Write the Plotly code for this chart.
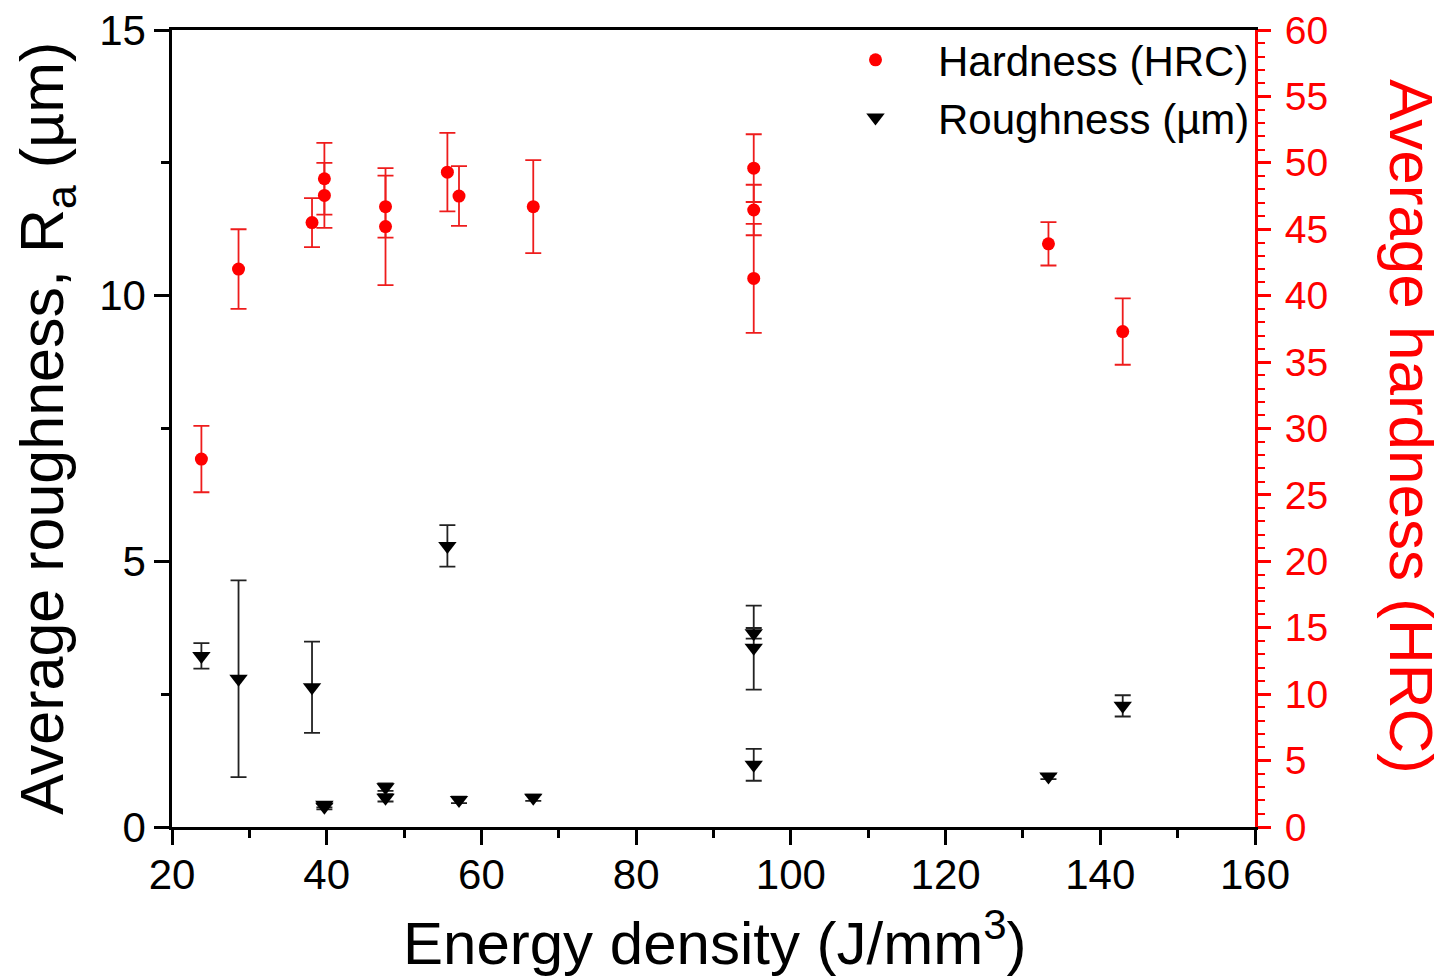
import plotly.graph_objects as go

# energy density (J/mm^3) of each sample
energy = [23.8, 28.6, 38.1, 39.7, 39.7, 47.6, 47.6, 55.6, 57.1, 66.7,
          95.2, 95.2, 95.2, 133.3, 142.9]

# hardness (HRC) with error
hardness = [27.7, 42.0, 45.5, 48.8, 47.55, 46.7, 45.2, 49.3, 47.5, 46.7,
            49.6, 46.45, 41.3, 43.9, 37.3]
hardness_err = [2.5, 3.0, 1.85, 2.7, 2.45, 2.33, 4.4, 2.95, 2.25, 3.5,
                2.55, 1.9, 4.1, 1.63, 2.5]

# roughness Ra (um) with error
roughness = [3.22, 2.79, 2.63, 0.42, 0.38, 0.75, 0.55, 5.29, 0.51, 0.55,
             3.645, 3.375, 1.17, 0.95, 2.28]
roughness_err = [0.24, 1.85, 0.86, 0.05, 0.05, 0.07, 0.07, 0.39, 0.06, 0.06,
                 0.1, 0.79, 0.3, 0.05, 0.2]

FONT = "Arial"

fig = go.Figure()

fig.add_trace(
    go.Scatter(
        x=energy,
        y=hardness,
        mode="markers",
        name="Hardness (HRC)",
        yaxis="y2",
        marker=dict(symbol="circle", size=13, color="#ff0000"),
        error_y=dict(type="data", array=hardness_err, color="#ee1c1c",
                     thickness=1.8, width=8),
    )
)

fig.add_trace(
    go.Scatter(
        x=energy,
        y=roughness,
        mode="markers",
        name="Roughness (µm)",
        marker=dict(symbol="triangle-down", size=16, color="black"),
        error_y=dict(type="data", array=roughness_err, color="#222222",
                     thickness=1.8, width=8),
    )
)

# page body has an 8px margin, so the figure is 8px smaller than the window
fig.update_layout(
    width=1444,
    height=970,
    margin=dict(l=163.5, r=196.5, t=22, b=151, autoexpand=False),
    plot_bgcolor="white",
    paper_bgcolor="white",
    font=dict(family=FONT, color="black"),
    showlegend=True,
    legend=dict(
        x=1, y=1.005, xanchor="right", yanchor="top",
        bgcolor="rgba(0,0,0,0)",
        font=dict(size=42, family=FONT),
        itemwidth=115,
        tracegroupgap=0,
    ),
    xaxis=dict(
        range=[20, 160], dtick=20, tick0=20, automargin=False,
        showgrid=False, zeroline=False,
        showline=True, linecolor="black", linewidth=2.5, mirror=True,
        ticks="outside", ticklen=15, tickwidth=2.5, tickcolor="black",
        minor=dict(dtick=10, ticks="outside", ticklen=8, tickwidth=2.5,
                   tickcolor="black"),
        tickfont=dict(size=42),
        ticklabelstandoff=-6,
        ticklabeloverflow="allow",
    ),
    yaxis=dict(
        range=[0, 15], dtick=5, automargin=False,
        showgrid=False, zeroline=False,
        showline=True, linecolor="black", linewidth=2.5,
        ticks="outside", ticklen=15, tickwidth=2.5, tickcolor="black",
        minor=dict(dtick=2.5, ticks="outside", ticklen=8, tickwidth=2.5,
                   tickcolor="black"),
        tickfont=dict(size=42),
        ticklabeloverflow="allow",
    ),
    yaxis2=dict(
        range=[0, 60], dtick=5, overlaying="y", side="right", automargin=False,
        showgrid=False, zeroline=False,
        showline=True, linecolor="#ff0000", linewidth=3,
        ticks="outside", ticklen=13, tickwidth=2.5, tickcolor="#ff0000",
        minor=dict(dtick=1, ticks="outside", ticklen=7, tickwidth=2,
                   tickcolor="#ff0000"),
        tickfont=dict(size=39, color="#ff0000"),
        ticklabelstandoff=6,
        ticklabeloverflow="allow",
    ),
)

# axis titles
fig.add_annotation(
    text="Average roughness, R<sub>a</sub> (µm)",
    xref="paper", yref="paper", x=-0.116, y=0.5,
    xanchor="center", yanchor="middle", textangle=-90, showarrow=False,
    font=dict(size=61, family=FONT, color="black"),
)
fig.add_annotation(
    text="Average hardness (HRC)",
    xref="paper", yref="paper", x=1.144, y=0.502,
    xanchor="center", yanchor="middle", textangle=90, showarrow=False,
    font=dict(size=62, family=FONT, color="#ff0000"),
)
fig.add_annotation(
    text="Energy density (J/mm<sup>3</sup>)",
    xref="paper", yref="paper", x=0.5014, y=-0.14,
    xanchor="center", yanchor="middle", showarrow=False,
    font=dict(size=60, family=FONT, color="black"),
)

fig.write_html("out.html")
